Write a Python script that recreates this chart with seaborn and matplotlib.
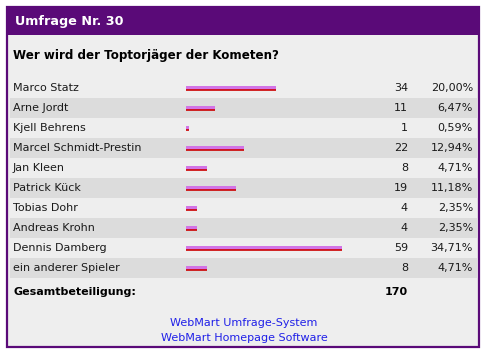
import numpy as np
import pandas as pd
import seaborn as sns
import matplotlib.pyplot as plt
from matplotlib.patches import Rectangle

# Poll data
title = "Umfrage Nr. 30"
question = "Wer wird der Toptorjäger der Kometen?"
players = ["Marco Statz", "Arne Jordt", "Kjell Behrens", "Marcel Schmidt-Prestin",
           "Jan Kleen", "Patrick Kück", "Tobias Dohr", "Andreas Krohn",
           "Dennis Damberg", "ein anderer Spieler"]
votes = [34, 11, 1, 22, 8, 19, 4, 4, 59, 8]
percent = [20.00, 6.47, 0.59, 12.94, 4.71, 11.18, 2.35, 2.35, 34.71, 4.71]
total_votes = 170
footer_lines = ["WebMart Umfrage-System", "WebMart Homepage Software"]

pollDF = pd.DataFrame({"Spieler": players, "Stimmen": votes, "Prozent": percent})

W, H = 487, 357
purple = "#5a0a78"
panel = "#eeeeee"
stripe = "#dcdcdc"
violet = "#d274e6"
red = "#cc0000"
link = "#2020e8"

sns.set_style("white")
plt.rcParams["font.family"] = ["DejaVu Sans"]


def fx(px):
    return px / W


def fy(py):
    return 1 - py / H


fig = plt.figure(figsize=(W / 100, H / 100), dpi=100)
fig.patch.set_facecolor("white")

# frame, panel and header band
fig.add_artist(Rectangle((fx(7), fy(347)), fx(472), 340 / H, transform=fig.transFigure,
                         facecolor=panel, edgecolor=purple, linewidth=1.6, zorder=0))
fig.add_artist(Rectangle((fx(7), fy(35)), fx(472), 28 / H, transform=fig.transFigure,
                         facecolor=purple, edgecolor="none", zorder=1))
fig.text(fx(15), fy(22), title, color="white", fontsize=9.2, fontweight="bold",
         va="center", ha="left")
fig.text(fx(13), fy(56), question, color="black", fontsize=8.6, fontweight="bold",
         va="center", ha="left")

# table axes: spans the row area, x scale in percent with 0 at the bar start
x_left, x_right, bar0, px_per_pct = 10, 477, 186, 4.48
ax = fig.add_axes([fx(x_left), fy(278), (x_right - x_left) / W, 200 / H])
ax.set_facecolor(panel)

sns.barplot(data=pollDF, x="Prozent", y="Spieler", orient="h", color=violet,
            saturation=1, width=0.2, ax=ax, zorder=2, linewidth=0)
bars = list(ax.patches)

# red bottom edge under each bar
for p in bars:
    yb = p.get_y() + p.get_height()
    ax.plot([p.get_x(), p.get_x() + p.get_width()], [yb, yb], color=red, lw=1.2,
            solid_capstyle="butt", zorder=3)

# alternating row stripes
for i in range(len(players)):
    if i % 2 == 1:
        ax.axhspan(i - 0.5, i + 0.5, color=stripe, zorder=0, lw=0)

ax.set_xlim((x_left - bar0) / px_per_pct, (x_right - bar0) / px_per_pct)
ax.set_ylim(len(players) - 0.5, -0.5)
ax.set(xlabel="", ylabel="", xticks=[], yticks=[])
for s in ax.spines.values():
    s.set_visible(False)

tr = ax.get_yaxis_transform()


def afx(px):
    return (px - x_left) / (x_right - x_left)


for i, row in pollDF.iterrows():
    ax.text(afx(13), i, row["Spieler"], transform=tr, fontsize=8, color="#1a1a1a",
            va="center", ha="left")
    ax.text(afx(408), i, str(row["Stimmen"]), transform=tr, fontsize=8,
            color="#1a1a1a", va="center", ha="right")
    ax.text(afx(473), i, f"{row['Prozent']:.2f}%".replace(".", ","), transform=tr,
            fontsize=8, color="#1a1a1a", va="center", ha="right")

fig.text(fx(13), fy(292), "Gesamtbeteiligung:", fontsize=8, fontweight="bold",
         color="black", va="center", ha="left")
fig.text(fx(408), fy(292), str(total_votes), fontsize=8, fontweight="bold",
         color="black", va="center", ha="right")

fig.text(fx(244), fy(323), footer_lines[0], fontsize=8, color=link, va="center", ha="center")
fig.text(fx(244), fy(338), footer_lines[1], fontsize=8, color=link, va="center", ha="center")

fig.savefig("out.png", dpi=100)
